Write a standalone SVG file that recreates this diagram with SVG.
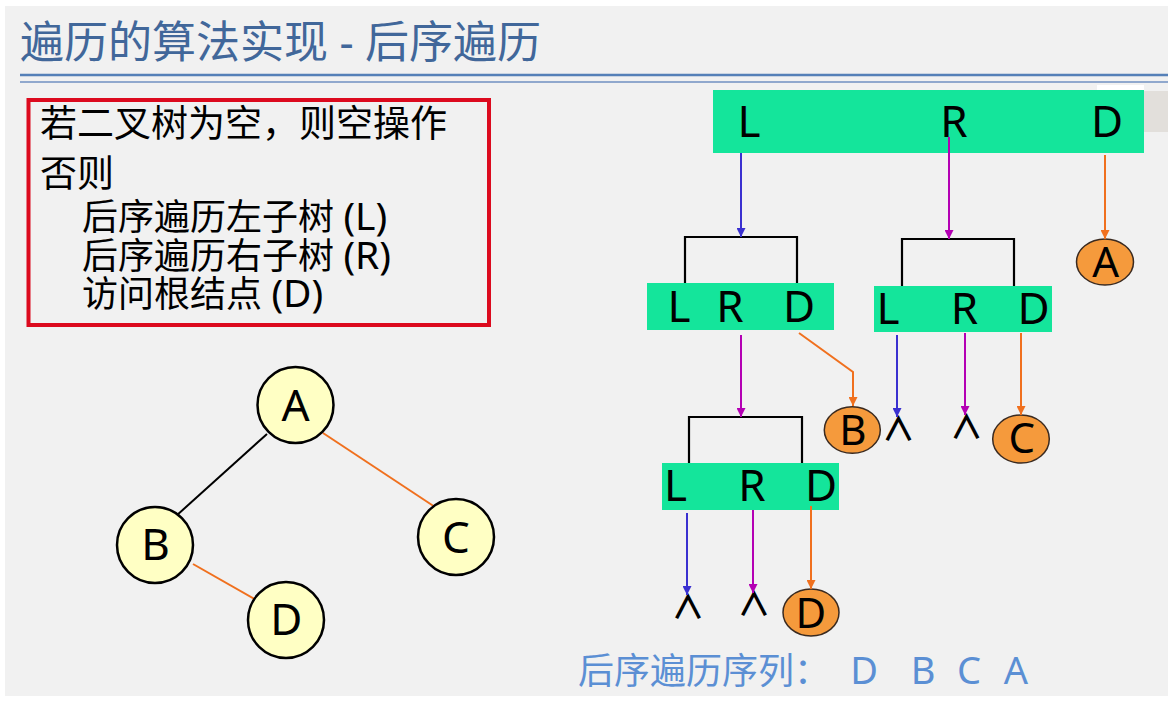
<svg xmlns="http://www.w3.org/2000/svg" width="1168" height="701" viewBox="0 0 1168 701">
<defs>
<style>
.cjk{font-family:"Noto Sans","Noto Sans CJK SC",sans-serif;}
.lat{font-family:"Noto Sans","Open Sans",sans-serif;}
.bar{fill:#14e59b;}
.bl{font-family:"Noto Sans","Open Sans",sans-serif;font-size:44px;fill:#000;text-anchor:middle;}
.yc{fill:#ffffc4;stroke:#000;stroke-width:2.5;}
.oc{fill:#f59a3c;stroke:#3a2a20;stroke-width:1.5;}
.cl{font-family:"Noto Sans","Open Sans",sans-serif;fill:#000;text-anchor:middle;}
.brk{fill:none;stroke:#000;stroke-width:2.2;}
.cb{fill:none;stroke:#3a30d0;stroke-width:2;marker-end:url(#ab);}
.cm{fill:none;stroke:#b400b4;stroke-width:2;marker-end:url(#am);}
.co{fill:none;stroke:#f0701e;stroke-width:2;marker-end:url(#ao);}
.car{font-family:"Noto Sans CJK SC",sans-serif;font-size:33px;font-weight:700;fill:#000;text-anchor:middle;}
</style>
<marker id="ab" viewBox="0 0 10 10" refX="10" refY="5" markerWidth="9" markerHeight="9" markerUnits="userSpaceOnUse" orient="auto"><path d="M0,0 L10,5 L0,10 z" fill="#3a30d0"/></marker>
<marker id="am" viewBox="0 0 10 10" refX="10" refY="5" markerWidth="9" markerHeight="9" markerUnits="userSpaceOnUse" orient="auto"><path d="M0,0 L10,5 L0,10 z" fill="#b400b4"/></marker>
<marker id="ao" viewBox="0 0 10 10" refX="10" refY="5" markerWidth="9" markerHeight="9" markerUnits="userSpaceOnUse" orient="auto"><path d="M0,0 L10,5 L0,10 z" fill="#f0701e"/></marker>
</defs>
<rect x="0" y="0" width="1168" height="701" fill="#ffffff"/>
<rect x="5" y="6" width="1163" height="690" fill="#f1f1f1"/>
<g id="title">
<text x="20" y="58" class="cjk" font-size="44" fill="#41679a">遍历的算法实现 - 后序遍历</text>
<line x1="20" y1="75" x2="1168" y2="75" stroke="#5580b8" stroke-width="2.5"/>
<line x1="20" y1="82" x2="1168" y2="82" stroke="#6f8fc0" stroke-width="1.5"/>
</g>
<g id="rulebox">
<rect x="28.5" y="100" width="460.5" height="225" fill="none" stroke="#dc0a1e" stroke-width="4"/>
<text x="40" y="137" class="cjk" font-size="37" fill="#000">若二叉树为空，则空操作</text>
<text x="40" y="187" class="cjk" font-size="37" fill="#000">否则</text>
<text x="82" y="230" class="cjk" font-size="36" fill="#000">后序遍历左子树 <tspan font-size="39">(L)</tspan></text>
<text x="82" y="269" class="cjk" font-size="36" fill="#000">后序遍历右子树 <tspan font-size="39">(R)</tspan></text>
<text x="82" y="307" class="cjk" font-size="36" fill="#000">访问根结点 <tspan font-size="39">(D)</tspan></text>
</g>
<g id="tree-edges">
<line x1="267" y1="434" x2="176" y2="516" stroke="#000" stroke-width="2"/>
<line x1="323" y1="433" x2="435" y2="507" stroke="#f0701e" stroke-width="2"/>
<line x1="193" y1="564" x2="258" y2="601" stroke="#f0701e" stroke-width="2"/>
</g>
<g id="tA"><circle cx="295.5" cy="405" r="38" class="yc"/><text x="295.5" y="421" class="cl" font-size="44">A</text></g>
<g id="tB"><circle cx="155" cy="545" r="38" class="yc"/><text x="155.5" y="560" class="cl" font-size="44">B</text></g>
<g id="tC"><circle cx="456" cy="537" r="38" class="yc"/><text x="456" y="553" class="cl" font-size="44">C</text></g>
<g id="tD"><circle cx="286" cy="620" r="38" class="yc"/><text x="286.3" y="635" class="cl" font-size="44">D</text></g>
<rect x="1097" y="85" width="47" height="6" fill="#ffffff"/>
<rect x="1144" y="91" width="24" height="41" fill="#e2dfdb"/>
<g id="barA">
<rect x="713" y="90" width="431" height="63" class="bar"/>
<text x="749" y="137" class="bl">L</text>
<text x="954" y="137" class="bl">R</text>
<text x="1107" y="137" class="bl">D</text>
</g>
<g id="barB">
<rect x="647" y="283" width="187" height="47" class="bar"/>
<text x="679" y="322" class="bl">L</text>
<text x="730" y="322" class="bl">R</text>
<text x="799" y="322" class="bl">D</text>
</g>
<g id="barC">
<rect x="874" y="286" width="178" height="46" class="bar"/>
<text x="888" y="324" class="bl">L</text>
<text x="964.5" y="324" class="bl">R</text>
<text x="1033.5" y="324" class="bl">D</text>
</g>
<g id="barD">
<rect x="662" y="463" width="177" height="47" class="bar"/>
<text x="675.5" y="501" class="bl">L</text>
<text x="752" y="501" class="bl">R</text>
<text x="821" y="501" class="bl">D</text>
</g>
<g id="oA"><ellipse cx="1105" cy="262" rx="28.5" ry="23" class="oc"/><text x="1105.7" y="277" class="cl" font-size="42">A</text></g>
<g id="oB"><ellipse cx="852.3" cy="430" rx="28" ry="23.3" class="oc"/><text x="852.8" y="445" class="cl" font-size="42">B</text></g>
<g id="oC"><ellipse cx="1021" cy="439" rx="28.3" ry="24" class="oc"/><text x="1021.7" y="453" class="cl" font-size="42">C</text></g>
<g id="oD"><ellipse cx="811" cy="612.5" rx="28" ry="23.5" class="oc"/><text x="810.8" y="628" class="cl" font-size="42">D</text></g>
<g id="nulls">
<text x="898.5" y="441" class="car">∧</text>
<text x="966.5" y="439" class="car">∧</text>
<text x="688" y="619" class="car">∧</text>
<text x="754" y="616" class="car">∧</text>
</g>
<g id="connectors">
<path d="M685,283 V237 H797 V283" class="brk"/>
<path d="M902,286 V239 H1014 V286" class="brk"/>
<path d="M689,463 V417 H802 V463" class="brk"/>
<path d="M741,153 V237" class="cb"/>
<path d="M949,137 V239" class="cm"/>
<path d="M1105,155 V239" class="co"/>
<path d="M741,335 V417" class="cm"/>
<path d="M799,333 L853,372 V406" class="co"/>
<path d="M897,335 V417" class="cb"/>
<path d="M965,333 V415" class="cm"/>
<path d="M1021,333 V415" class="co"/>
<path d="M687,513 V595" class="cb"/>
<path d="M753,510 V593" class="cm"/>
<path d="M811,506 V589" class="co"/>
</g>
<g id="result">
<text x="578" y="684" class="cjk" font-size="36" fill="#5b8fd4">后序遍历序列：</text>
<text x="864" y="684" class="lat" font-size="38" fill="#5b8fd4" text-anchor="middle">D</text>
<text x="923" y="684" class="lat" font-size="38" fill="#5b8fd4" text-anchor="middle">B</text>
<text x="969" y="684" class="lat" font-size="38" fill="#5b8fd4" text-anchor="middle">C</text>
<text x="1016" y="684" class="lat" font-size="38" fill="#5b8fd4" text-anchor="middle">A</text>
</g>
</svg>
